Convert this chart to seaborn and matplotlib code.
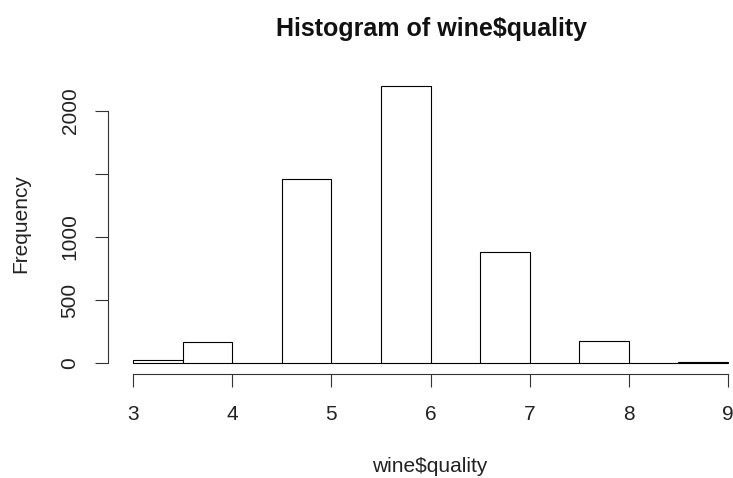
import numpy as np
import matplotlib
matplotlib.use("Agg")
import matplotlib.pyplot as plt
import seaborn as sns

# --- DATA (R hist of wine$quality, breaks every 0.5) ---
bin_edges = [3.0, 3.5, 4.0, 4.5, 5.0, 5.5, 6.0, 6.5, 7.0, 7.5, 8.0, 8.5, 9.0]
bin_counts = [20, 163, 0, 1457, 0, 2198, 0, 880, 0, 175, 0, 5]
x_ticks = [3, 4, 5, 6, 7, 8, 9]
y_ticks = [0, 500, 1000, 1500, 2000]
y_tick_labels = ["0", "500", "1000", "", "2000"]

sns.set_style("white")
plt.rcParams['font.family'] = ['Liberation Sans', 'DejaVu Sans']

W, H = 733, 478
fig = plt.figure(figsize=(W / 100, H / 100), dpi=100)
# plot region in pixels: left 108, right 733 (cropped), top 75, bottom 374
ax = fig.add_axes([108 / W, 1 - 374 / H, (733 - 108) / W, (374 - 75) / H])

mids = (np.array(bin_edges[:-1]) + np.array(bin_edges[1:])) / 2
sns.histplot(x=mids, weights=bin_counts, bins=bin_edges, ax=ax,
             color="white", edgecolor="black", linewidth=0.8, alpha=1)

ax.set_xlim(2.748, 9.05)
ax.set_ylim(-88, 2286)

for s in ["top", "right"]:
    ax.spines[s].set_visible(False)
ax.spines["left"].set_bounds(0, 2000)
ax.spines["bottom"].set_bounds(3, 9)
for s in ["left", "bottom"]:
    ax.spines[s].set_color("#333333")
    ax.spines[s].set_linewidth(0.8)

ax.set_xticks(x_ticks)
ax.set_xticklabels([str(t) for t in x_ticks])
ax.set_yticks(y_ticks)
ax.set_yticklabels(y_tick_labels, rotation=90, va="center")
ax.tick_params(axis="both", direction="out", length=9.5, width=0.8,
               color="#333333", labelsize=15, labelcolor="#222222",
               bottom=True, left=True)
ax.tick_params(axis="x", pad=12.5)
ax.tick_params(axis="y", pad=11)
ax.set_xlabel("")
ax.set_ylabel("")

fig.text(431 / W, 1 - 29 / H, "Histogram of wine$quality", ha="center",
         va="center", fontsize=18, fontweight="bold", color="#111111")
fig.text(430 / W, 1 - 466 / H, "wine$quality", ha="center", va="center",
         fontsize=15, color="#222222")
fig.text(21 / W, 1 - 224 / H, "Frequency", ha="center", va="center",
         rotation=90, fontsize=15, color="#222222")

fig.savefig("out.png", dpi=100)
